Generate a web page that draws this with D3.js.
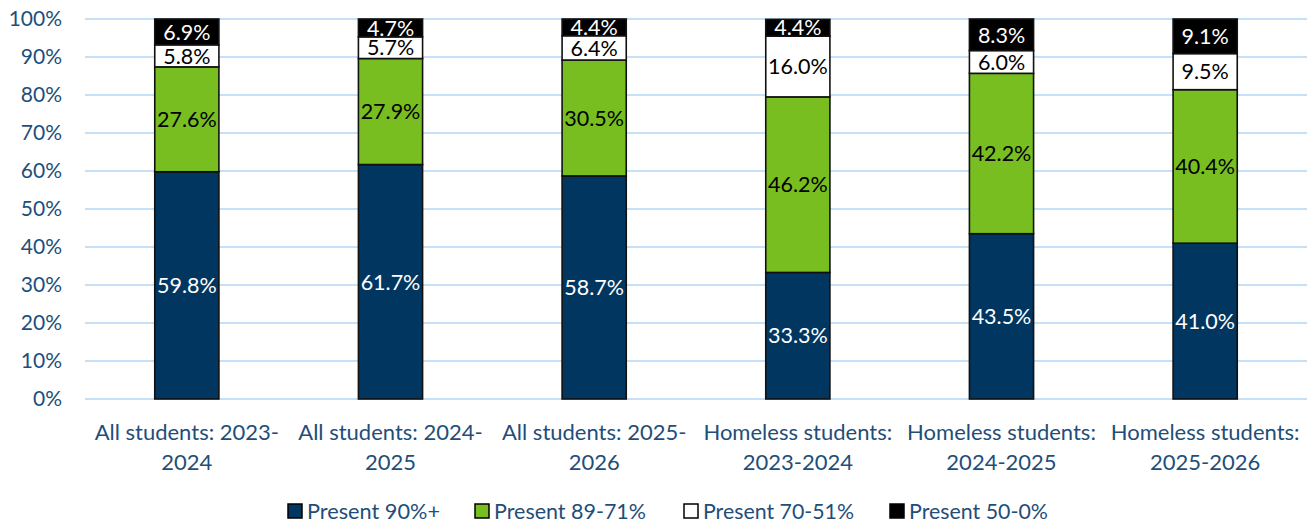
<!DOCTYPE html>
<html lang="en">
<head>
<meta charset="UTF-8">
<title>Attendance by group</title>
<script src="https://cdnjs.cloudflare.com/ajax/libs/d3/7.8.5/d3.min.js"></script>
<style>
  body { margin: 0; background: #fff; }
  svg { font-family: Lato, "Open Sans", sans-serif; }
</style>
</head>
<body>
<div id="chart"></div>
<script>
// data
const categories = [
  ["All students: 2023-", "2024"],
  ["All students: 2024-", "2025"],
  ["All students: 2025-", "2026"],
  ["Homeless students:", "2023-2024"],
  ["Homeless students:", "2024-2025"],
  ["Homeless students:", "2025-2026"]
];
const seriesNames = ["Present 90%+", "Present 89-71%", "Present 70-51%", "Present 50-0%"];
const present90 = [59.8, 61.7, 58.7, 33.3, 43.5, 41.0];
const present71 = [27.6, 27.9, 30.5, 46.2, 42.2, 40.4];
const present51 = [5.8, 5.7, 6.4, 16.0, 6.0, 9.5];
const present0  = [6.9, 4.7, 4.4, 4.4, 8.3, 9.1];
const yTicks = [0, 10, 20, 30, 40, 50, 60, 70, 80, 90, 100];

const colors = ["#003660", "#78BE20", "#ffffff", "#000000"];
const labelColors = ["#ffffff", "#000000", "#000000", "#ffffff"];

const width = 1309, height = 523;
const margin = {top: 19, right: 2, bottom: 124, left: 85};

const svg = d3.select("#chart").append("svg")
  .attr("width", width).attr("height", height);

const rows = categories.map((c, i) => ({
  key: i, s0: present90[i], s1: present71[i], s2: present51[i], s3: present0[i]
}));
const stack = d3.stack().keys(["s0", "s1", "s2", "s3"]);
const series = stack(rows);

const x = d3.scaleBand()
  .domain(d3.range(categories.length))
  .range([margin.left, width - margin.right])
  .paddingInner(0.685).paddingOuter(0.3425);

const y = d3.scaleLinear().domain([0, 100]).range([height - margin.bottom, margin.top]);

// gridlines
svg.append("g")
  .selectAll("line").data(yTicks).join("line")
  .attr("x1", margin.left).attr("x2", width - margin.right)
  .attr("y1", d => y(d)).attr("y2", d => y(d))
  .attr("stroke", "#C5E0F7").attr("stroke-width", 2);

// y axis labels
const yAxis = d3.axisLeft(y).tickValues(yTicks).tickFormat(d => d + "%").tickSize(0).tickPadding(23);
svg.append("g")
  .attr("transform", `translate(${margin.left},0)`)
  .call(yAxis)
  .call(g => g.select(".domain").remove())
  .selectAll("text")
  .attr("font-size", 21).attr("fill", "#1F4E79").attr("font-family", "Lato, sans-serif");

// bars
const layer = svg.append("g").selectAll("g").data(series).join("g")
  .attr("fill", (d, i) => colors[i]);

layer.selectAll("rect").data(d => d).join("rect")
  .attr("x", d => x(d.data.key))
  .attr("width", x.bandwidth())
  .attr("y", d => y(Math.min(d[1], 100)))
  .attr("height", d => y(d[0]) - y(Math.min(d[1], 100)))
  .attr("stroke", "#111").attr("stroke-width", 1.6);

// data labels
svg.append("g").selectAll("g").data(series).join("g")
  .each(function(s, si) {
    d3.select(this).selectAll("text").data(s).join("text")
      .attr("x", d => x(d.data.key) + x.bandwidth() / 2)
      .attr("y", d => (y(d[0]) + y(Math.min(d[1], 100))) / 2)
      .attr("dy", "0.36em")
      .attr("text-anchor", "middle")
      .attr("font-size", 21.5)
      .attr("fill", labelColors[si])
      .text(d => (d[1] - d[0]).toFixed(1) + "%");
  });

// category labels
const xl = svg.append("g").selectAll("text").data(categories).join("text")
  .attr("x", (d, i) => x(i) + x.bandwidth() / 2)
  .attr("y", 440)
  .attr("text-anchor", "middle")
  .attr("font-size", 22)
  .attr("fill", "#1F4E79");
xl.selectAll("tspan").data(d => d).join("tspan")
  .attr("x", function() { return d3.select(this.parentNode).attr("x"); })
  .attr("dy", (d, i) => i === 0 ? 0 : 30)
  .text(d => d);

// legend
const legendX = [287, 474, 683, 889];
const legendW = [133, 152, 151, 139];
const legend = svg.append("g").selectAll("g").data(seriesNames).join("g")
  .attr("transform", (d, i) => `translate(${legendX[i]},504)`);
legend.append("rect")
  .attr("x", 1).attr("y", 0)
  .attr("width", 14).attr("height", 14)
  .attr("fill", (d, i) => colors[i])
  .attr("stroke", "#000").attr("stroke-width", 1.5);
legend.append("text")
  .attr("x", 20).attr("y", 7).attr("dy", "0.36em")
  .attr("font-size", 21).attr("fill", "#1F4E79")
  .attr("textLength", (d, i) => legendW[i])
  .attr("lengthAdjust", "spacingAndGlyphs")
  .text(d => d);
</script>
</body>
</html>
